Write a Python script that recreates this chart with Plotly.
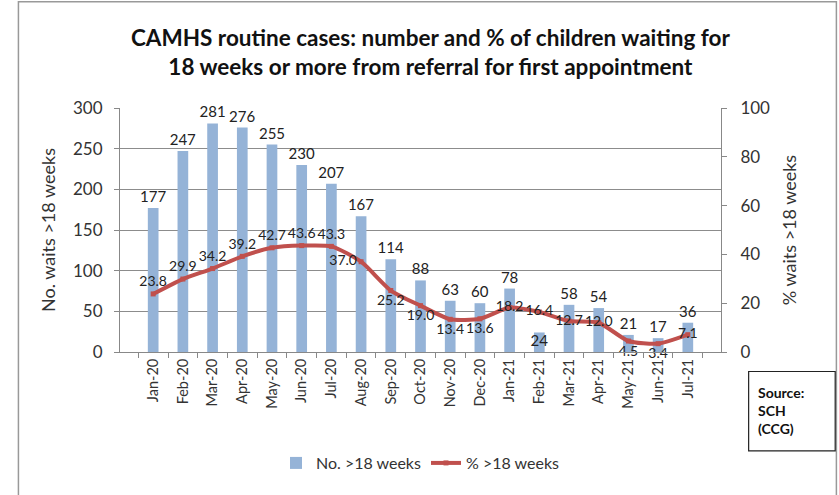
"""
CAMHS routine cases: count and % of children waiting 18+ weeks (bars + smoothed line).
"""

import plotly.graph_objects as go

MONTHS = ["Jan-20", "Feb-20", "Mar-20", "Apr-20", "May-20", "Jun-20", "Jul-20",
          "Aug-20", "Sep-20", "Oct-20", "Nov-20", "Dec-20", "Jan-21", "Feb-21",
          "Mar-21", "Apr-21", "May-21", "Jun-21", "Jul-21"]
WAITS = [177, 247, 281, 276, 255, 230, 207, 167, 114, 88, 63, 60, 78, 24, 58, 54, 21, 17, 36]
PCT = [23.8, 29.9, 34.2, 39.2, 42.7, 43.6, 43.3, 37.0, 25.2, 19.0, 13.4, 13.6,
       18.2, 16.4, 12.7, 12.0, 4.5, 3.4, 7.1]

# label placement for the % line, roughly where Excel put them
PCT_POS = ["top center", "top center", "top center", "top center", "top center",
           "top center", "top center", "middle left", "bottom center", "bottom center",
           "bottom center", "bottom center", "middle center", "middle center",
           "middle center", "middle center", "bottom center", "bottom center",
           "middle center"]

BAR_COLOR = "#95B3D7"
LINE_COLOR = "#C0504D"
FONT = "Lato"

bar_pos = ["outside"] * len(WAITS)
bar_pos[MONTHS.index("Feb-21")] = "inside"

fig = go.Figure()
fig.add_trace(go.Bar(
    x=MONTHS, y=WAITS, name="No. >18 weeks",
    marker=dict(color=BAR_COLOR, line=dict(width=0)),
    width=0.36,
    text=WAITS, textposition=bar_pos, cliponaxis=False,
    constraintext="none", insidetextanchor="start",
    textfont=dict(size=15, color="#222"),
))
fig.add_trace(go.Scatter(
    x=MONTHS, y=PCT, name="% >18 weeks", yaxis="y2",
    mode="lines+markers+text",
    line=dict(color=LINE_COLOR, width=4, shape="spline", smoothing=0.6),
    marker=dict(symbol="square", size=5, color=LINE_COLOR),
    text=[f"{v:.1f}" for v in PCT], textposition=PCT_POS,
    textfont=dict(size=14, color="#222"),
    cliponaxis=False,
))

fig.update_layout(
    width=839, height=495,
    paper_bgcolor="white", plot_bgcolor="white",
    font=dict(family=FONT, color="#333"),
    title=dict(
        text="CAMHS routine cases: number and % of children waiting for<br>"
             "18 weeks or more from referral for first appointment",
        x=0.513, xanchor="center", y=0.907, yanchor="middle",
        font=dict(size=22.5, color="#111", family=FONT, weight="bold"),
    ),
    margin=dict(l=120, r=118, t=108, b=143),
    bargap=0.6,
    showlegend=True,
    legend=dict(
        orientation="h", x=0.5, xanchor="center", y=-0.455, yanchor="middle",
        font=dict(size=16, color="#333"), traceorder="normal",
    ),
    xaxis=dict(
        tickangle=-90, tickfont=dict(size=14.5, color="#333"),
        showline=True, linecolor="#888", linewidth=1,
        ticks="outside", ticklen=5, tickcolor="#888", tickson="boundaries",
        showgrid=False,
    ),
    yaxis=dict(
        range=[0, 300], dtick=50,
        title=dict(text="No. waits >18 weeks", font=dict(size=18, color="#333"), standoff=12),
        tickfont=dict(size=17, color="#333"), ticklabelstandoff=8,
        showline=True, linecolor="#888", linewidth=1,
        ticks="outside", ticklen=5, tickcolor="#888",
        showgrid=True, gridcolor="#8c8c8c", gridwidth=1,
        zeroline=False,
    ),
    yaxis2=dict(
        range=[0, 100], dtick=20, overlaying="y", side="right",
        title=dict(text="% waits >18 weeks", font=dict(size=18, color="#333"), standoff=14),
        tickfont=dict(size=17, color="#333"), ticklabelstandoff=10,
        showline=True, linecolor="#888", linewidth=1,
        ticks="outside", ticklen=5, tickcolor="#888",
        showgrid=False, zeroline=False,
    ),
)

# outer chart frame
fig.add_shape(type="rect", xref="paper", yref="paper",
              x0=-0.169, x1=1.192, y0=-0.62, y1=1.435,
              line=dict(color="#999", width=1.5))

# source box
fig.add_shape(type="rect", xref="paper", yref="paper",
              x0=1.046, x1=1.19, y0=-0.405, y1=-0.08,
              line=dict(color="#222", width=1.2))
fig.add_annotation(
    xref="paper", yref="paper", x=1.058, y=-0.24,
    xanchor="left", yanchor="middle", align="left", showarrow=False,
    text="<b>Source:<br>SCH<br>(CCG)</b>",
    font=dict(size=14, color="#111", family=FONT),
)

# drop the default 8px body margin so the figure sits flush in the window
fig.write_html("out.html", config={"displayModeBar": False},
               post_script="document.body.style.margin='0';")
